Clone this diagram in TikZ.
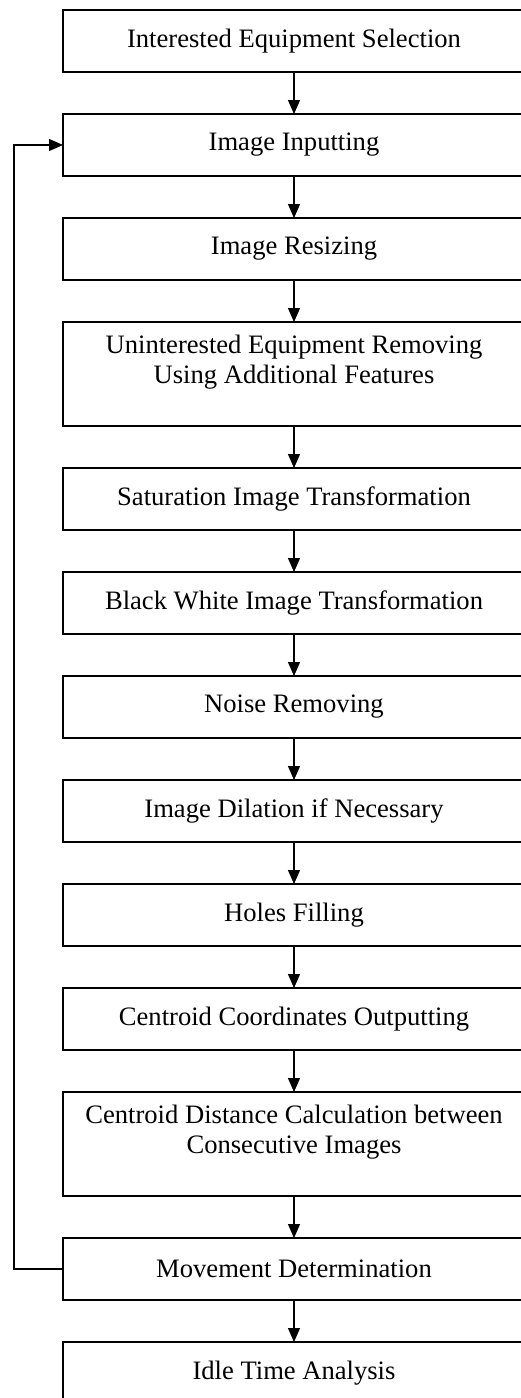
\documentclass[tikz,border=0pt]{standalone}
\usepackage{fontspec}
\setmainfont{Liberation Serif}
\usepackage{tikz}
\usetikzlibrary{positioning, arrows.meta}

\tikzset{
    stepbox/.style={draw, line width=0.65pt, minimum width=231pt, minimum height=31pt,
        outer sep=0pt, align=center, inner sep=2pt, font=\fontsize{13.3}{15}\selectfont},
    tallbox/.style={stepbox, minimum height=52pt, text depth=15pt},
    flow/.style={line width=0.65pt, -{Triangle[length=7pt, width=6pt]}}
}

\begin{document}
\begin{tikzpicture}[node distance=21pt]
    \useasboundingbox (0,0) rectangle (260pt,-699pt);

    \node[stepbox, anchor=north] (sel) at (147pt,-5pt) {Interested Equipment Selection};
    \node[stepbox] (inp) [below=of sel] {Image Inputting};
    \node[stepbox] (rsz) [below=of inp] {Image Resizing};
    \node[tallbox] (rem) [below=of rsz] {Uninterested Equipment Removing\\Using Additional Features};
    \node[stepbox] (sat) [below=of rem] {Saturation Image Transformation};
    \node[stepbox] (bw) [below=of sat] {Black White Image Transformation};
    \node[stepbox] (noise) [below=of bw] {Noise Removing};
    \node[stepbox] (dil) [below=of noise] {Image Dilation if Necessary};
    \node[stepbox] (fill) [below=of dil] {Holes Filling};
    \node[stepbox] (cen) [below=of fill] {Centroid Coordinates Outputting};
    \node[tallbox] (dist) [below=of cen] {Centroid Distance Calculation between\\Consecutive Images};
    \node[stepbox] (move) [below=of dist] {Movement Determination};
    \node[stepbox] (idle) [below=of move] {Idle Time Analysis};

    \coordinate (back) at ([xshift=-24.5pt]move.west);

    \path[flow]
    (sel) edge (inp)
    (inp) edge (rsz)
    (rsz) edge (rem)
    (rem) edge (sat)
    (sat) edge (bw)
    (bw) edge (noise)
    (noise) edge (dil)
    (dil) edge (fill)
    (fill) edge (cen)
    (cen) edge (dist)
    (dist) edge (move)
    (move) edge (idle);

    % loop back to the input step
    \draw[flow] (move.west) -- (back) |- (inp.west);
\end{tikzpicture}
\end{document}
